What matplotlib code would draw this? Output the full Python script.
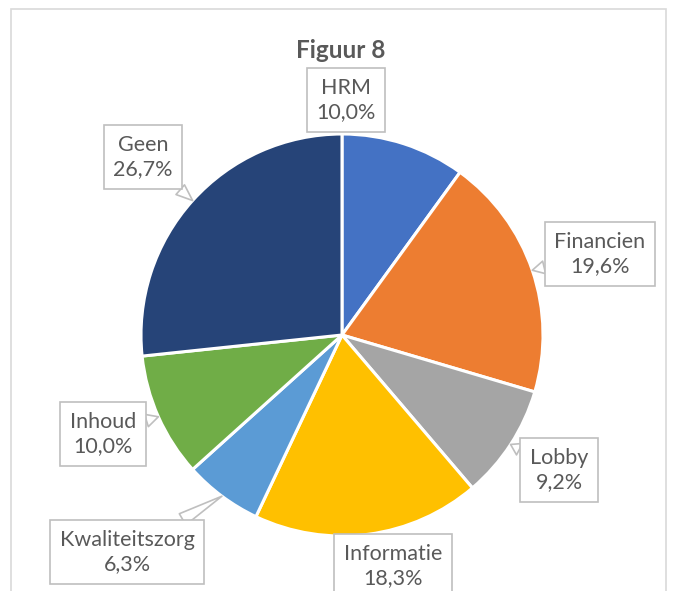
import matplotlib
matplotlib.use("Agg")
import matplotlib.pyplot as plt
import numpy as np
from matplotlib.patches import Rectangle

categories = ["HRM", "Financien", "Lobby", "Informatie", "Kwaliteitszorg", "Inhoud", "Geen"]
values = [10.0, 19.6, 9.2, 18.3, 6.3, 10.0, 26.7]
colors = ["#4472C4", "#ED7D31", "#A5A5A5", "#FFC000", "#5B9BD5", "#70AD47", "#264478"]
title = "Figuur 8"

W, H = 673, 591
fig = plt.figure(figsize=(W / 100, H / 100), dpi=100)
ax = fig.add_axes([0, 0, 1, 1])
ax.set_xlim(0, W)
ax.set_ylim(0, H)
ax.set_aspect("equal")
ax.axis("off")

def py(y):  # pixel-from-top -> axes y
    return H - y

# chart frame
ax.add_patch(Rectangle((11, py(640)), 655, 640 - 9, fill=False, ec="#D9D9D9", lw=1.2, zorder=0))

cx, cy, r = 342, 335, 201
wedges, _ = ax.pie(values, colors=colors, startangle=90, counterclock=False,
                   center=(cx, py(cy)), radius=r, normalize=True,
                   wedgeprops=dict(edgecolor="white", linewidth=2.2))
ax.set_xlim(0, W)
ax.set_ylim(0, H)

font = "Lato"
tc = "#595959"
ax.text(341, py(50), title, ha="center", va="center", fontsize=17.5, fontweight="bold",
        color=tc, family=font)

# label box centres (pixels from top-left) and whether they have a pointer
label_pos = {
    "HRM": (346, 100, False),
    "Financien": (600, 254, True),
    "Lobby": (559, 470, True),
    "Informatie": (393, 566, False),
    "Kwaliteitszorg": (127, 552, True),
    "Inhoud": (103, 434, True),
    "Geen": (143, 157, True),
}

for w, cat, v in zip(wedges, categories, values):
    lx, ly, ptr = label_pos[cat]
    txt = f"{cat}\n{v:.1f}%".replace(".", ",")
    mid = np.deg2rad((w.theta1 + w.theta2) / 2)
    tip = (cx + r * np.cos(mid), py(cy) + r * np.sin(mid))
    bbox = dict(boxstyle="square,pad=0.45", fc="white", ec="#BFBFBF", lw=1.2)
    if ptr:
        ax.annotate(txt, xy=tip, xytext=(lx, py(ly)), ha="center", va="center",
                    fontsize=15.5, color=tc, family=font, linespacing=1.3, bbox=bbox,
                    arrowprops=dict(arrowstyle="wedge,tail_width=0.6,shrink_factor=0.5",
                                    fc="white", ec="#BFBFBF", lw=1.2,
                                    shrinkA=0, shrinkB=0))
    else:
        ax.text(lx, py(ly), txt, ha="center", va="center", fontsize=15.5, color=tc,
                family=font, linespacing=1.3, bbox=bbox)

fig.savefig("out.png", dpi=100)
